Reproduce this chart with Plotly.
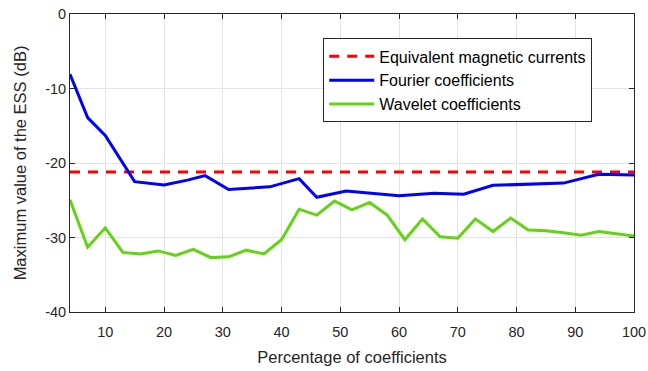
import plotly.graph_objects as go

# Percentage of retained coefficients (sampling grid of the wavelet curve)
pct_wavelet = [4, 7, 10, 13, 16, 19, 22, 25, 28, 31, 34, 37, 40, 43, 46, 49, 52,
               55, 58, 61, 64, 67, 70, 73, 76, 79, 82, 85, 88, 91, 94, 97, 100]
ess_wavelet = [-24.95, -31.3, -28.7, -32.0, -32.2, -31.8, -32.4, -31.6, -32.7, -32.6,
               -31.7, -32.2, -30.3, -26.2, -27.0, -25.1, -26.3, -25.3, -27.0, -30.3,
               -27.5, -29.9, -30.1, -27.5, -29.2, -27.4, -29.0, -29.1, -29.35, -29.7,
               -29.2, -29.5, -29.8]

# Fourier-coefficient curve
pct_fourier = [4, 7, 10, 15, 20, 24, 27, 31, 38, 43, 46, 51, 60, 66, 71, 76, 88, 94, 100]
ess_fourier = [-8.1, -13.9, -16.3, -22.5, -22.95, -22.3, -21.7, -23.55, -23.2, -22.1,
               -24.6, -23.75, -24.4, -24.05, -24.2, -23.0, -22.7, -21.5, -21.6]

# Reference level from the equivalent magnetic currents
pct_emc = [4, 100]
ess_emc = [-21.2, -21.2]

x_ticks = [10, 20, 30, 40, 50, 60, 70, 80, 90, 100]
x_tick_labels = ["10", "20", "30", "40", "50", "60", "70", "80", "90", "100"]
y_ticks = [-40, -30, -20, -10, 0]
y_tick_labels = ["-40", "-30", "-20", "-10", "0"]

FONT = "Liberation Sans, Arial, sans-serif"
INK = "#262626"

fig = go.Figure()
fig.add_trace(go.Scatter(
    x=pct_emc, y=ess_emc, mode="lines", name="Equivalent magnetic currents",
    line=dict(color="#ff0000", width=3, dash="10px,8px"),
))
fig.add_trace(go.Scatter(
    x=pct_fourier, y=ess_fourier, mode="lines", name="Fourier coefficients",
    line=dict(color="#0000ff", width=3),
))
fig.add_trace(go.Scatter(
    x=pct_wavelet, y=ess_wavelet, mode="lines", name="Wavelet coefficients",
    line=dict(color="#62d414", width=3),
))

axis_common = dict(
    showgrid=True, gridcolor="#e3e3e3", gridwidth=1,
    showline=True, linecolor=INK, linewidth=1, mirror="ticks",
    ticks="inside", ticklen=5, tickcolor=INK, tickwidth=1,
    zeroline=False, automargin=False,
    tickfont=dict(family=FONT, size=14.5, color=INK),
)

fig.update_xaxes(
    range=[4, 100], tickmode="array", tickvals=x_ticks, ticktext=x_tick_labels,
    ticklabelstandoff=7,
    title=dict(text="Percentage of coefficients", font=dict(family=FONT, size=16.5, color=INK),
               standoff=12),
    **axis_common,
)
fig.update_yaxes(
    range=[-40, 0], tickmode="array", tickvals=y_ticks, ticktext=y_tick_labels,
    title=dict(text="Maximum value of the ESS (dB)", font=dict(family=FONT, size=16.5, color=INK),
               standoff=14),
    **axis_common,
)

fig.update_layout(
    width=648, height=371,
    margin=dict(l=70, r=14, t=14, b=59),
    paper_bgcolor="white", plot_bgcolor="white",
    font=dict(family=FONT, color=INK),
    showlegend=True,
    legend=dict(
        x=0.449, y=0.918, xanchor="left", yanchor="top",
        bgcolor="white", bordercolor=INK, borderwidth=1,
        font=dict(family=FONT, size=16, color="black"),
        itemwidth=45, tracegroupgap=0,
    ),
)

fig.write_html("out.html")
